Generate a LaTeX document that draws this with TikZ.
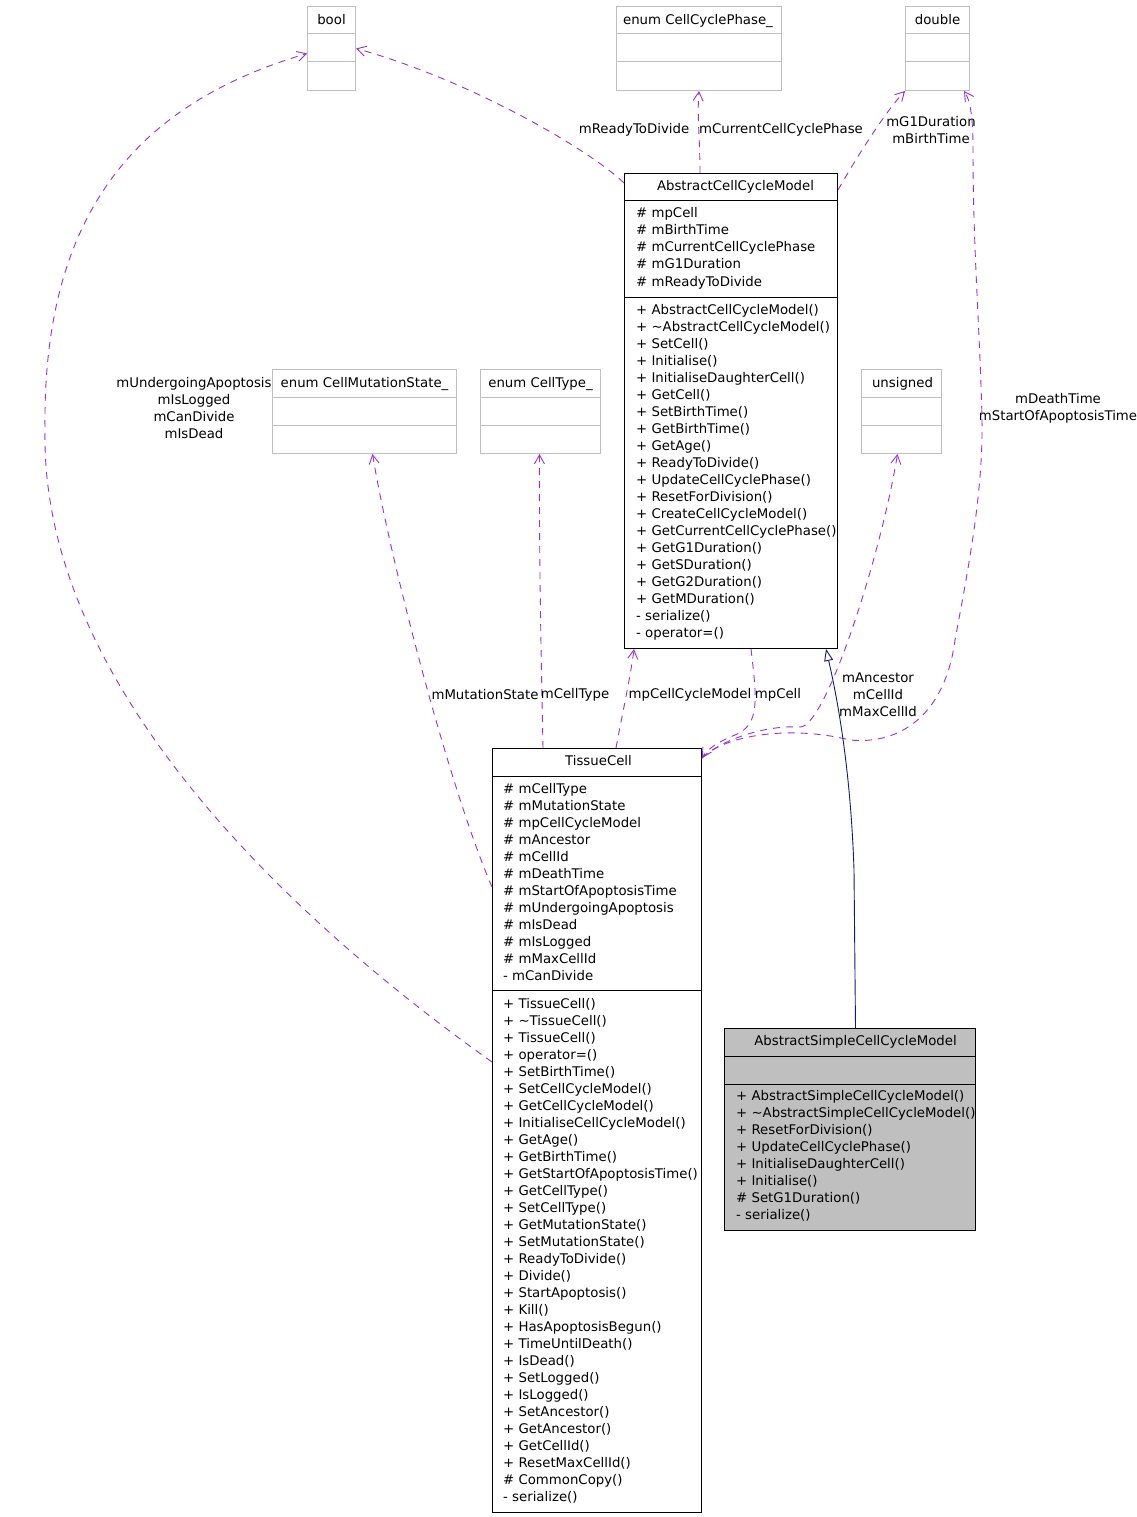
\documentclass[tikz,border=0pt]{standalone}
\usepackage{fontspec}
\setmainfont{DejaVu Sans}
\usetikzlibrary{arrows.meta,calc}
\definecolor{depc}{HTML}{9A32CD}
\definecolor{navyc}{HTML}{191970}
\definecolor{grayb}{HTML}{BFBFBF}
\newcommand{\fnt}{\fontsize{13.3}{17}\selectfont}
\tikzset{
 cls/.style={draw=black, line width=1pt, rectangle, inner sep=0pt, anchor=north west},
 gcls/.style={draw=grayb, line width=1pt, rectangle, inner sep=0pt, anchor=north west},
 txt/.style={inner sep=0pt, anchor=base west, font=\fnt},
 hdr/.style={inner sep=0pt, anchor=base, font=\fnt},
 lbl/.style={inner sep=0pt, align=center, font=\fnt},
 dep/.style={draw=depc, line width=0.9pt, dash pattern=on 7pt off 6pt, -{Straight Barb[length=9pt,width=10pt]}},
 inh/.style={draw=navyc, line width=0.9pt, -{Triangle[open,length=12pt,width=9pt,fill=white]}}
}
\begin{document}
\begin{tikzpicture}[x=1pt,y=-1pt]
\useasboundingbox[fill=white] (0,0) rectangle (1137,1517);

% ---- type boxes (gray)
\node[gcls, minimum width=48pt, minimum height=84pt] (bool) at (307,6) {};
\node[gcls, minimum width=165pt, minimum height=84pt] (ccp) at (616,6) {};
\node[gcls, minimum width=64pt, minimum height=84pt] (dbl) at (905,6) {};
\node[gcls, minimum width=184pt, minimum height=84pt] (cms) at (272,369) {};
\node[gcls, minimum width=120pt, minimum height=84pt] (ctype) at (480,369) {};
\node[gcls, minimum width=80pt, minimum height=84pt] (uns) at (861,369) {};
\foreach \b in {bool,ccp,dbl,cms,ctype,uns}{
  \draw[grayb, line width=1pt] ($(\b.north west)+(0,28)$) -- ($(\b.north east)+(0,28)$);
  \draw[grayb, line width=1pt] ($(\b.north west)+(0,56)$) -- ($(\b.north east)+(0,56)$);
}
\node[hdr] (boolh) at ($(bool.north)+(0,18.5)$) {bool};
\node[hdr] (ccph) at ($(ccp.north)+(-1,18.5)$) {enum CellCyclePhase\_};
\node[hdr] (dblh) at ($(dbl.north)+(0,18.5)$) {double};
\node[hdr] (cmsh) at ($(cms.north)+(0,18)$) {enum CellMutationState\_};
\node[hdr] (ctypeh) at ($(ctype.north)+(0,18)$) {enum CellType\_};
\node[hdr] (unsh) at ($(uns.north)+(1,18)$) {unsigned};

% ---- AbstractCellCycleModel
\node[cls, minimum width=213pt, minimum height=475pt] (acm) at (624,173) {};
\draw[line width=1pt] ($(acm.north west)+(0,28)$) -- ($(acm.north east)+(0,28)$);
\draw[line width=1pt] ($(acm.north west)+(0,124)$) -- ($(acm.north east)+(0,124)$);
\node[hdr] (acmh) at ($(acm.north)+(4.5,18)$) {AbstractCellCycleModel};
\foreach \t [count=\i from 0] in {\# mpCell, \# mBirthTime, \# mCurrentCellCyclePhase, \# mG1Duration, \# mReadyToDivide}
  \node[txt] (acma\i) at ($(acm.north west)+(12,44.5+17.15*\i)$) {\t};
\foreach \t [count=\i from 0] in {+ AbstractCellCycleModel(), + \textasciitilde AbstractCellCycleModel(), + SetCell(), + Initialise(), + InitialiseDaughterCell(), + GetCell(), + SetBirthTime(), + GetBirthTime(), + GetAge(), + ReadyToDivide(), + UpdateCellCyclePhase(), + ResetForDivision(), + CreateCellCycleModel(), + GetCurrentCellCyclePhase(), + GetG1Duration(), + GetSDuration(), + GetG2Duration(), + GetMDuration(), - serialize(), - operator=()}
  \node[txt] (acmm\i) at ($(acm.north west)+(12,141.5+17*\i)$) {\t};

% ---- TissueCell
\node[cls, minimum width=209pt, minimum height=764pt] (tc) at (492,748) {};
\draw[line width=1pt] ($(tc.north west)+(0,28)$) -- ($(tc.north east)+(0,28)$);
\draw[line width=1pt] ($(tc.north west)+(0,242)$) -- ($(tc.north east)+(0,242)$);
\node[hdr] (tch) at ($(tc.north)+(1.5,17.5)$) {TissueCell};
\foreach \t [count=\i from 0] in {\# mCellType, \# mMutationState, \# mpCellCycleModel, \# mAncestor, \# mCellId, \# mDeathTime, \# mStartOfApoptosisTime, \# mUndergoingApoptosis, \# mIsDead, \# mIsLogged, \# mMaxCellId, - mCanDivide}
  \node[txt] (tca\i) at ($(tc.north west)+(11,45.5+17*\i)$) {\t};
\foreach \t [count=\i from 0] in {+ TissueCell(), + \textasciitilde TissueCell(), + TissueCell(), + operator=(), + SetBirthTime(), + SetCellCycleModel(), + GetCellCycleModel(), + InitialiseCellCycleModel(), + GetAge(), + GetBirthTime(), + GetStartOfApoptosisTime(), + GetCellType(), + SetCellType(), + GetMutationState(), + SetMutationState(), + ReadyToDivide(), + Divide(), + StartApoptosis(), + Kill(), + HasApoptosisBegun(), + TimeUntilDeath(), + IsDead(), + SetLogged(), + IsLogged(), + SetAncestor(), + GetAncestor(), + GetCellId(), + ResetMaxCellId(), \# CommonCopy(), - serialize()}
  \node[txt] (tcm\i) at ($(tc.north west)+(11,260.5+17*\i)$) {\t};

% ---- AbstractSimpleCellCycleModel
\node[cls, fill=grayb, minimum width=251pt, minimum height=202pt] (ascm) at (724,1028) {};
\draw[line width=1pt] ($(ascm.north west)+(0,28)$) -- ($(ascm.north east)+(0,28)$);
\draw[line width=1pt] ($(ascm.north west)+(0,56)$) -- ($(ascm.north east)+(0,56)$);
\node[hdr] (ascmh) at ($(ascm.north)+(5.5,17.5)$) {AbstractSimpleCellCycleModel};
\foreach \t [count=\i from 0] in {+ AbstractSimpleCellCycleModel(), + \textasciitilde AbstractSimpleCellCycleModel(), + ResetForDivision(), + UpdateCellCyclePhase(), + InitialiseDaughterCell(), + Initialise(), \# SetG1Duration(), - serialize()}
  \node[txt] (ascmm\i) at ($(ascm.north west)+(12,72.5+17*\i)$) {\t};

% ---- connectors
\draw[dep] ([yshift=-10pt]acm.north west) .. controls (590,150) and (470,80) .. (bool.east);
\draw[dep] ([xshift=76pt]acm.north west) .. controls (700,140) and (697,115) .. (ccp.south);
\draw[dep] ([yshift=-17pt]acm.north east) .. controls (855,160) and (885,112) .. (dbl.south west);
\draw[dep] ([yshift=-314pt]tc.north west) .. controls (320,940) and (40,700) .. (45,430)
   .. controls (42,200) and (150,100) .. ([yshift=-5pt]bool.west);
\draw[dep] ([yshift=-139pt]tc.north west) .. controls (450,790) and (390,560) .. ([xshift=8pt]cms.south);
\draw[dep] ([xshift=51pt]tc.north west) .. controls (541,650) and (539,550) .. ([xshift=-1pt]ctype.south);
\draw[dep] ([xshift=124pt]tc.north west) .. controls (622,715) and (630,680) .. ([xshift=10pt]acm.south west);
\draw[dep] ([xshift=127pt]acm.south west) .. controls (757,700) and (760,725) .. (735,735)
   .. controls (720,741) and (708,748) .. ([yshift=-10pt]tc.north east);
\draw[dep] ([yshift=-10pt]tc.north east) .. controls (725,737) and (770,725) .. (800,727)
   .. controls (825,728) and (880,560) .. ([xshift=-4pt]uns.south);
\draw[dep] ([yshift=-10pt]tc.north east) .. controls (725,735) and (790,725) .. (850,740)
   .. controls (900,745) and (945,715) .. (955,640)
   .. controls (970,560) and (983,490) .. (982,420)
   .. controls (980,330) and (973,250) .. (973,150)
   .. controls (973,115) and (970,100) .. ([xshift=-6pt]dbl.south east);
\draw[inh] ([xshift=5.5pt]ascm.north) -- (854,870) .. controls (851,780) and (840,710) .. ([xshift=-12pt]acm.south east);

% ---- labels
\node[lbl] (l1) at (634,130) {mReadyToDivide};
\node[lbl] (l2) at (781,130) {mCurrentCellCyclePhase};
\node[lbl] (l3) at (931,130.5) {mG1Duration\\mBirthTime};
\node[lbl] (l4) at (1058,408.5) {mDeathTime\\mStartOfApoptosisTime};
\node[lbl] (l5) at (194,408.5) {mUndergoingApoptosis\\mIsLogged\\mCanDivide\\mIsDead};
\node[lbl] (l6) at (485,695) {mMutationState};
\node[lbl] (l7) at (575,695) {mCellType};
\node[lbl] (l8) at (690,695) {mpCellCycleModel};
\node[lbl] (l9) at (778,695) {mpCell};
\node[lbl] (l10) at (878,695) {mAncestor\\mCellId\\mMaxCellId};
\end{tikzpicture}
\end{document}
